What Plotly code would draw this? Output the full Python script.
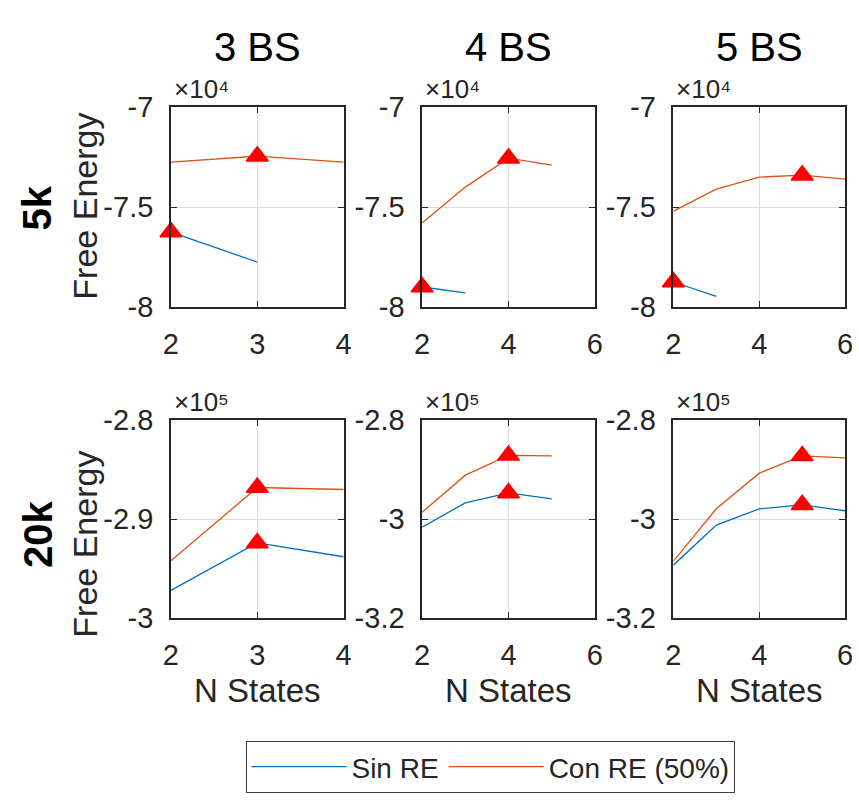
import numpy as np
import plotly.graph_objects as go

W, H = 859, 805

# ---------------- data (values in units of the axis multiplier) ----------------
col_titles = ["3 BS", "4 BS", "5 BS"]
row_labels = ["5k", "20k"]
multipliers = ["⁴", "⁵"]          # exponent shown as x10^n

# 5k row (x10^4)
x_5k_3bs_sin = [2, 3]
y_5k_3bs_sin = [-7.625, -7.775]
x_5k_3bs_con = [2, 3, 4]
y_5k_3bs_con = [-7.275, -7.245, -7.275]

x_5k_4bs_sin = [2, 3]
y_5k_4bs_sin = [-7.90, -7.93]
x_5k_4bs_con = [2, 3, 4, 5]
y_5k_4bs_con = [-7.58, -7.40, -7.255, -7.29]

x_5k_5bs_sin = [2, 3]
y_5k_5bs_sin = [-7.875, -7.947]
x_5k_5bs_con = [2, 3, 4, 5, 6]
y_5k_5bs_con = [-7.52, -7.41, -7.35, -7.34, -7.36]

# 20k row (x10^5)
x_20k_3bs_sin = [2, 3, 4]
y_20k_3bs_sin = [-2.972, -2.924, -2.938]
x_20k_3bs_con = [2, 3, 4]
y_20k_3bs_con = [-2.942, -2.868, -2.870]

x_20k_4bs_sin = [2, 3, 4, 5]
y_20k_4bs_sin = [-3.016, -2.967, -2.947, -2.959]
x_20k_4bs_con = [2, 3, 4, 5]
y_20k_4bs_con = [-2.986, -2.911, -2.871, -2.872]

x_20k_5bs_sin = [2, 3, 4, 5, 6]
y_20k_5bs_sin = [-3.093, -3.012, -2.979, -2.971, -2.983]
x_20k_5bs_con = [2, 3, 4, 5, 6]
y_20k_5bs_con = [-3.085, -2.979, -2.907, -2.872, -2.876]

# axis ranges / ticks
x_ranges = [[2, 4], [2, 6], [2, 6]]
x_tickvals = [[2, 3, 4], [2, 4, 6], [2, 4, 6]]
x_ticktext = [["2", "3", "4"], ["2", "4", "6"], ["2", "4", "6"]]
y_ranges = [[[-8, -7], [-8, -7], [-8, -7]],
            [[-3, -2.8], [-3.2, -2.8], [-3.2, -2.8]]]
y_tickvals = [[[-8, -7.5, -7]] * 3,
              [[-3, -2.9, -2.8], [-3.2, -3, -2.8], [-3.2, -3, -2.8]]]
y_ticktext = [[["-8", "-7.5", "-7"]] * 3,
              [["-3", "-2.9", "-2.8"], ["-3.2", "-3", "-2.8"], ["-3.2", "-3", "-2.8"]]]

series = [
    [((x_5k_3bs_sin, y_5k_3bs_sin), (x_5k_3bs_con, y_5k_3bs_con)),
     ((x_5k_4bs_sin, y_5k_4bs_sin), (x_5k_4bs_con, y_5k_4bs_con)),
     ((x_5k_5bs_sin, y_5k_5bs_sin), (x_5k_5bs_con, y_5k_5bs_con))],
    [((x_20k_3bs_sin, y_20k_3bs_sin), (x_20k_3bs_con, y_20k_3bs_con)),
     ((x_20k_4bs_sin, y_20k_4bs_sin), (x_20k_4bs_con, y_20k_4bs_con)),
     ((x_20k_5bs_sin, y_20k_5bs_sin), (x_20k_5bs_con, y_20k_5bs_con))],
]
series_names = ["Sin RE", "Con RE (50%)"]
series_colors = ["#0072BD", "#D95319"]

# ---------------- layout geometry (pixels) ----------------
col_px = [(166, 342), (422, 598), (678, 853)]
row_px = [(95, 303), (421, 627)]

FONT = "Liberation Sans, Arial, Helvetica, sans-serif"
TXT = "#262626"

def px_x(p):
    return p / W

def px_y(p):
    return 1 - p / H

fig = go.Figure()
layout = dict(
    width=W, height=H,
    margin=dict(l=0, r=0, t=0, b=0),
    paper_bgcolor="white", plot_bgcolor="white",
    font=dict(family=FONT, color=TXT),
    showlegend=True,
)
annotations = []

for r in range(2):
    for c in range(3):
        k = r * 3 + c + 1
        xa = "x" if k == 1 else f"x{k}"
        ya = "y" if k == 1 else f"y{k}"
        for s in range(2):
            xs, ys = series[r][c][s]
            fig.add_trace(go.Scatter(
                x=xs, y=ys, mode="lines", name=series_names[s],
                line=dict(color=series_colors[s], width=1.3),
                legendgroup=series_names[s], showlegend=(k == 1),
                xaxis=xa, yaxis=ya, cliponaxis=True,
            ))
        for s in range(2):
            xs, ys = series[r][c][s]
            i = int(np.argmax(ys))
            fig.add_trace(go.Scatter(
                x=[xs[i]], y=[ys[i]], mode="markers", showlegend=False,
                marker=dict(symbol="triangle-up", size=19, color="#FF0000",
                            line=dict(color="#FF0000", width=1.5)),
                xaxis=xa, yaxis=ya, cliponaxis=False,
            ))
        x0, x1 = col_px[c]
        y0, y1 = row_px[r]
        common = dict(
            showline=True, mirror="ticks", linecolor=TXT, linewidth=1.5,
            ticks="inside", ticklen=6, tickcolor=TXT, tickwidth=1,
            showgrid=True, gridcolor="#dcdcdc", gridwidth=1,
            zeroline=False, tickfont=dict(size=29, color=TXT, family=FONT),
            fixedrange=True,
        )
        layout["xaxis" if k == 1 else f"xaxis{k}"] = dict(
            common, domain=[px_x(x0), px_x(x1)], range=x_ranges[c],
            tickmode="array", tickvals=x_tickvals[c], ticktext=x_ticktext[c],
            anchor=ya, ticklabelstandoff=10,
        )
        layout["yaxis" if k == 1 else f"yaxis{k}"] = dict(
            common, domain=[px_y(y1), px_y(y0)], range=y_ranges[r][c],
            tickmode="array", tickvals=y_tickvals[r][c], ticktext=y_ticktext[r][c],
            anchor=xa, ticklabelstandoff=10,
        )
        # exponent label
        annotations.append(dict(
            x=px_x(x0 + 1), y=px_y(y0 - 1), xref="paper", yref="paper",
            xanchor="left", yanchor="bottom", showarrow=False,
            text=f"×10{multipliers[r]}",
            font=dict(size=26, color=TXT, family=FONT),
        ))
        if r == 1:
            annotations.append(dict(
                x=px_x((x0 + x1) / 2), y=px_y(702), xref="paper", yref="paper",
                xanchor="center", yanchor="middle", showarrow=False,
                text="N States", font=dict(size=33, color=TXT, family=FONT),
            ))
        if r == 0:
            annotations.append(dict(
                x=px_x((x0 + x1) / 2), y=px_y(32), xref="paper", yref="paper",
                xanchor="center", yanchor="middle", showarrow=False,
                text=col_titles[c], font=dict(size=40, color="black", family=FONT),
            ))

# row labels and y axis titles
row_label_y = [200, 540]
ylabel_y = [198, 550]
for r in range(2):
    annotations.append(dict(
        x=px_x(30), y=px_y(row_label_y[r]), xref="paper", yref="paper",
        xanchor="center", yanchor="middle", showarrow=False, textangle=-90,
        text=f"<b>{row_labels[r]}</b>", font=dict(size=40, color="black", family=FONT),
    ))
    annotations.append(dict(
        x=px_x(79), y=px_y(ylabel_y[r]), xref="paper", yref="paper",
        xanchor="center", yanchor="middle", showarrow=False, textangle=-90,
        text="Free Energy", font=dict(size=34, color=TXT, family=FONT),
    ))

layout["annotations"] = annotations
layout["legend"] = dict(
    orientation="h", x=px_x(243), y=px_y(755), xanchor="left", yanchor="top",
    bordercolor="#404040", borderwidth=1, bgcolor="white",
    font=dict(size=28, color=TXT, family=FONT),
    itemwidth=95, tracegroupgap=0,
)
fig.update_layout(**layout)
fig.write_html("out.html")
